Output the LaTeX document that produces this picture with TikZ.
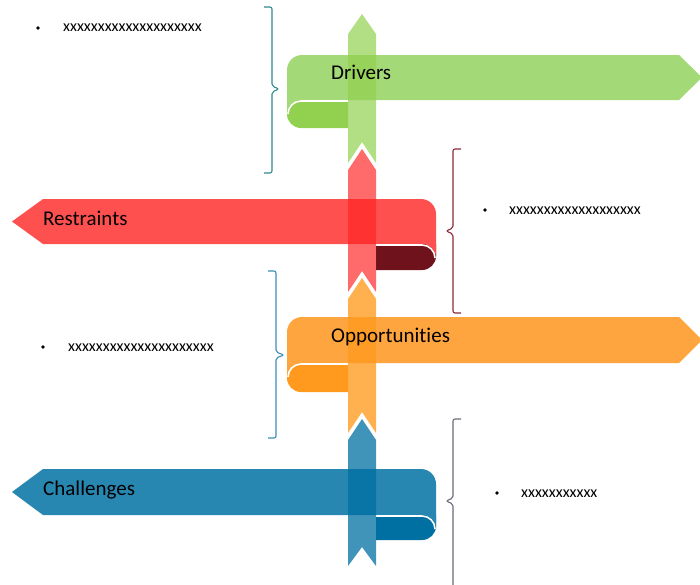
\documentclass[tikz,border=0pt]{standalone}
\usepackage{fontspec}
\setmainfont{Carlito}[Ligatures=NoCommon]
\definecolor{gRib}{HTML}{A3D977}
\definecolor{gDark}{HTML}{92D050}
\definecolor{rRib}{HTML}{FF5050}
\definecolor{rDark}{HTML}{70121C}
\definecolor{rBand}{HTML}{FF2525}
\definecolor{oRib}{HTML}{FFA53F}
\definecolor{oDark}{HTML}{FF9A1E}
\definecolor{bRib}{HTML}{2787B1}
\definecolor{bDark}{HTML}{0070A3}
\definecolor{brTeal}{HTML}{2E8B8E}
\definecolor{brMaroon}{HTML}{8E2A36}
\definecolor{brSteel}{HTML}{3C8DB5}
\definecolor{brGray}{HTML}{6A6A78}
\begin{document}
\begin{tikzpicture}[x=1pt,y=-1pt,
  ribbontext/.style={font=\fontsize{21}{25}\selectfont, inner sep=0pt, anchor=base west, text=black},
  itemtext/.style={font=\fontsize{16}{19}\selectfont, inner sep=0pt, anchor=base west, text=black},
  bulletdot/.style={circle, fill=black, inner sep=0pt, minimum size=3.8pt},
  curlline/.style={white, line width=1.6pt},
  bracketline/.style={line width=1.1pt, rounded corners=2pt}]
\useasboundingbox (0,0) rectangle (700,584);
\clip (0,0) rectangle (700,584);

% ---- Drivers ribbon (points right, curl on the left) ----
\fill[gDark] (287,100) -- (348,100) -- (348,128) -- (301,128)
  arc[start angle=90, end angle=180, radius=14] -- cycle;
\fill[gRib] (287,70) arc[start angle=180, end angle=270, radius=15]
  -- (679,55) -- (702,77.5) -- (679,100) -- (301,100)
  arc[start angle=270, end angle=180, radius=14] -- cycle;
\draw[curlline] (348,101) -- (301,101) arc[start angle=270, end angle=180, radius=13];

% ---- Restraints ribbon (points left, curl on the right) ----
\fill[rDark] (376,244) -- (436,244) -- (436,256)
  arc[start angle=0, end angle=90, radius=14] -- (376,270) -- cycle;
\fill[rRib] (12,221.5) -- (43,199) -- (421,199)
  arc[start angle=270, end angle=360, radius=15] -- (436,258)
  arc[start angle=0, end angle=-90, radius=14] -- (43,244) -- cycle;
\draw[curlline] (376,245) -- (422,245) arc[start angle=270, end angle=360, radius=13];

% ---- Opportunities ribbon ----
\fill[oDark] (287,363) -- (348,363) -- (348,392) -- (301,392)
  arc[start angle=90, end angle=180, radius=14] -- cycle;
\fill[oRib] (287,332) arc[start angle=180, end angle=270, radius=15]
  -- (679,317) -- (702,340) -- (679,363) -- (301,363)
  arc[start angle=270, end angle=180, radius=14] -- cycle;
\draw[curlline] (348,364) -- (301,364) arc[start angle=270, end angle=180, radius=13];

% ---- Challenges ribbon ----
\fill[bDark] (376,515) -- (436,515) -- (436,526)
  arc[start angle=0, end angle=90, radius=14] -- (376,540) -- cycle;
\fill[bRib] (12,492) -- (43,469) -- (421,469)
  arc[start angle=270, end angle=360, radius=15] -- (436,529)
  arc[start angle=0, end angle=-90, radius=14] -- (43,515) -- cycle;
\draw[curlline] (376,516) -- (422,516) arc[start angle=270, end angle=360, radius=13];

% ---- vertical spine, one translucent segment per ribbon ----
\fill[gDark, opacity=0.7] (362,14) -- (376,34) -- (376,163) -- (362,142)
  -- (348,163) -- (348,34) -- cycle;
\fill[rBand, opacity=0.68] (362,149) -- (376,170) -- (376,292) -- (362,271)
  -- (348,292) -- (348,170) -- cycle;
\fill[oDark, opacity=0.78] (362,278) -- (376,299) -- (376,433) -- (362,412)
  -- (348,433) -- (348,299) -- cycle;
\fill[bDark, opacity=0.75] (362,419) -- (376,440) -- (376,566) -- (362,547)
  -- (348,566) -- (348,440) -- cycle;

% ---- brackets ----
\draw[bracketline, brTeal] (264,7) -- (272,7) -- (272,86) -- (279,89) -- (272,92)
  -- (272,173) -- (264,173);
\draw[bracketline, brMaroon] (461,149) -- (453,149) -- (453,228) -- (446,231)
  -- (453,234) -- (453,313) -- (461,313);
\draw[bracketline, brSteel] (268,271) -- (276,271) -- (276,352) -- (284,355)
  -- (276,358) -- (276,438) -- (268,438);
\draw[bracketline, brGray] (461,419) -- (453,419) -- (453,498) -- (446,501)
  -- (453,504) -- (453,590) -- (461,590);

% ---- ribbon captions ----
\node[ribbontext] (drivers) at (331,79) {Drivers};
\node[ribbontext] (restraints) at (43,225) {Restraints};
\node[ribbontext] (opps) at (331,342) {Opportunities};
\node[ribbontext] (challenges) at (43,495) {Challenges};

% ---- bullet items ----
\node[bulletdot] (d1) at (38,28) {};
\node[itemtext] (t1) at (63,31) {xxxxxxxxxxxxxxxxxxxx};
\node[bulletdot] (d2) at (485,210) {};
\node[itemtext] (t2) at (509,214) {xxxxxxxxxxxxxxxxxxx};
\node[bulletdot] (d3) at (43,347) {};
\node[itemtext] (t3) at (68,351) {xxxxxxxxxxxxxxxxxxxxx};
\node[bulletdot] (d4) at (497,493) {};
\node[itemtext] (t4) at (521,497) {xxxxxxxxxxx};
\end{tikzpicture}
\end{document}
